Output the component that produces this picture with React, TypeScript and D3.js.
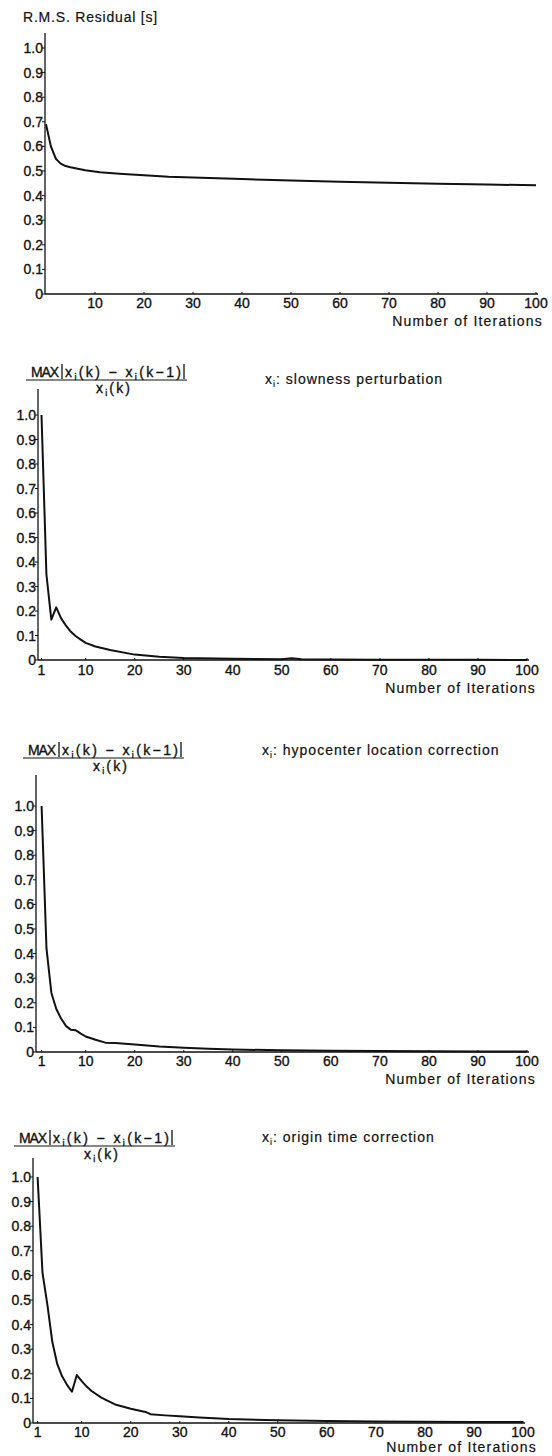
import React from "react";
import * as d3 from "d3";

// ---------- data ----------
const yTickValues = [0, 0.1, 0.2, 0.3, 0.4, 0.5, 0.6, 0.7, 0.8, 0.9, 1.0];
const xTicksRms = [10, 20, 30, 40, 50, 60, 70, 80, 90, 100];
const xTicksMax = [1, 10, 20, 30, 40, 50, 60, 70, 80, 90, 100];

const rmsIter = [0, 1, 2, 3, 4, 5, 8, 11, 15, 20, 25, 30, 40, 50, 60, 70, 80, 90, 100];
const rmsValue = [0.69, 0.6, 0.55, 0.53, 0.52, 0.515, 0.503, 0.495, 0.489, 0.483, 0.477, 0.474, 0.467, 0.461, 0.456, 0.452, 0.448, 0.445, 0.442];

const slowIter = [1, 2, 3, 4, 5, 6, 7, 8, 9, 10, 12, 15, 20, 25, 30, 40, 50, 52, 54, 60, 70, 80, 90, 100];
const slowValue = [1.0, 0.35, 0.165, 0.215, 0.17, 0.14, 0.115, 0.097, 0.083, 0.07, 0.055, 0.041, 0.022, 0.013, 0.008, 0.005, 0.003, 0.007, 0.003, 0.002, 0.001, 0.001, 0.001, 0.0];

const hypoIter = [1, 2, 3, 4, 5, 6, 7, 8, 9, 10, 12, 14, 16, 20, 25, 30, 35, 40, 50, 60, 70, 80, 90, 100];
const hypoValue = [1.0, 0.42, 0.24, 0.175, 0.135, 0.105, 0.09, 0.088, 0.075, 0.063, 0.05, 0.038, 0.037, 0.03, 0.022, 0.017, 0.013, 0.01, 0.007, 0.005, 0.004, 0.003, 0.002, 0.002];

const originIter = [1, 2, 3, 4, 5, 6, 7, 8, 9, 10, 11, 12, 14, 17, 20, 23, 24, 27, 30, 34, 40, 50, 60, 70, 80, 90, 100];
const originValue = [1.0, 0.61, 0.48, 0.33, 0.24, 0.19, 0.155, 0.127, 0.195, 0.17, 0.148, 0.13, 0.103, 0.074, 0.058, 0.045, 0.036, 0.031, 0.027, 0.022, 0.016, 0.011, 0.008, 0.006, 0.005, 0.004, 0.004];

const rmsTitle = "R.M.S. Residual [s]";
const xAxisTitle = "Number of Iterations";
const slowLabel = "slowness perturbation";
const hypoLabel = "hypocenter location correction";
const originLabel = "origin time correction";

// ---------- styling ----------
const FONT = "'Liberation Sans', Arial, Helvetica, sans-serif";
const INK = "#111";
const TXT = { fontFamily: FONT, fill: INK, stroke: INK, strokeWidth: 0.35 } as const;

type Cfg = {
  axisX: number;
  x0: number;
  x1: number;
  domain: [number, number];
  y0: number;
  y1: number;
  axisTop: number;
  tickBase: number;
  titleBase: number;
  titleRight: number;
};

function Panel({ cfg, iters, values, xTicks }: { cfg: Cfg; iters: number[]; values: number[]; xTicks: number[] }) {
  const x = d3.scaleLinear().domain(cfg.domain).range([cfg.x0, cfg.x1]);
  const y = d3.scaleLinear().domain([0, 1]).range([cfg.y0, cfg.y1]);
  const pts = iters.map((k, i) => [k, values[i]] as [number, number]);
  const line = d3
    .line<[number, number]>()
    .x((d) => x(d[0]))
    .y((d) => y(d[1]))
    .curve(d3.curveLinear);
  const fmt = (v: number) => (v === 0 ? "0" : d3.format(".1f")(v));
  return (
    <g>
      {/* y axis */}
      <line x1={cfg.axisX} x2={cfg.axisX} y1={cfg.axisTop} y2={cfg.y0} stroke={INK} strokeWidth={1.3} />
      {yTickValues.map((v) => (
        <g key={"y" + v}>
          <line x1={cfg.axisX - 3} x2={cfg.axisX} y1={y(v)} y2={y(v)} stroke={INK} strokeWidth={1} />
          <text x={cfg.axisX - 2} y={y(v) + 5} textAnchor="end" fontSize={14} {...TXT}>
            {fmt(v)}
          </text>
        </g>
      ))}
      {/* x axis */}
      <line x1={cfg.axisX} x2={x(100) + 2} y1={cfg.y0} y2={cfg.y0} stroke={INK} strokeWidth={1.3} />
      {xTicks.map((v) => (
        <g key={"x" + v}>
          <line x1={x(v)} x2={x(v)} y1={cfg.y0} y2={cfg.y0 - 2} stroke={INK} strokeWidth={1} />
          <text x={x(v)} y={cfg.tickBase} textAnchor="middle" fontSize={14} {...TXT}>
            {v}
          </text>
        </g>
      ))}
      <text x={cfg.titleRight} y={cfg.titleBase} textAnchor="end" fontSize={14} letterSpacing={1.2} {...TXT} strokeWidth={0.2}>
        {xAxisTitle}
      </text>
      <path d={line(pts) || ""} fill="none" stroke={INK} strokeWidth={2} strokeLinejoin="round" />
    </g>
  );
}

function Fraction({ left, base, label, labelX, labelBase }: { left: number; base: number; label: string; labelX: number; labelBase: number }) {
  const fs = 14;
  const sub = (key: string) => (
    <tspan key={key} fontSize={9} dy={3}>
      i
    </tspan>
  );
  return (
    <g>
      <text x={left + 5} y={base} fontSize={fs} textLength={28} lengthAdjust="spacing" {...TXT}>
        MAX
      </text>
      <line x1={left + 36} x2={left + 36} y1={base - 13} y2={base + 2} stroke={INK} strokeWidth={1.3} />
      <text x={left + 39} y={base} fontSize={fs} textLength={116} lengthAdjust="spacing" {...TXT}>
        <tspan>x</tspan>
        {sub("a")}
        <tspan dy={-3}>{"(k) \u2212 x"}</tspan>
        {sub("b")}
        <tspan dy={-3}>{"(k\u22121)"}</tspan>
      </text>
      <line x1={left + 158} x2={left + 158} y1={base - 13} y2={base + 2} stroke={INK} strokeWidth={1.3} />
      <line x1={left} x2={left + 161} y1={base + 3} y2={base + 3} stroke={INK} strokeWidth={1.2} />
      <text x={left + 70} y={base + 16} fontSize={fs} textLength={34} lengthAdjust="spacing" {...TXT}>
        <tspan>x</tspan>
        {sub("c")}
        <tspan dy={-3}>{"(k)"}</tspan>
      </text>
      <text x={labelX} y={labelBase} fontSize={fs} letterSpacing={1} {...TXT} strokeWidth={0.2}>
        <tspan>x</tspan>
        {sub("d")}
        <tspan dy={-3}>{": " + label}</tspan>
      </text>
    </g>
  );
}

export default function App() {
  const p1: Cfg = { axisX: 45, x0: 46, x1: 536, domain: [0, 100], y0: 294, y1: 48, axisTop: 33, tickBase: 308, titleBase: 326, titleRight: 543 };
  const p2: Cfg = { axisX: 38, x0: 41.5, x1: 527, domain: [1, 100], y0: 660, y1: 415, axisTop: 389, tickBase: 675, titleBase: 693, titleRight: 536 };
  const p3: Cfg = { axisX: 36, x0: 41.6, x1: 527, domain: [1, 100], y0: 1052, y1: 806, axisTop: 775, tickBase: 1066, titleBase: 1084, titleRight: 536 };
  const p4: Cfg = { axisX: 33, x0: 37.6, x1: 523, domain: [1, 100], y0: 1423, y1: 1177, axisTop: 1158, tickBase: 1437, titleBase: 1452, titleRight: 537 };
  return (
    <svg
      width={552}
      height={1456}
      viewBox="0 0 552 1456"
      style={{ position: "absolute", left: 0, top: 0, background: "#fff" }}
    >
      <rect x={0} y={0} width={552} height={1456} fill="#fff" />
      <text x={23} y={21.5} fontSize={14} letterSpacing={0.8} {...TXT} strokeWidth={0.2}>
        {rmsTitle}
      </text>
      <Panel cfg={p1} iters={rmsIter} values={rmsValue} xTicks={xTicksRms} />

      <Fraction left={26} base={377} label={slowLabel} labelX={265} labelBase={384} />
      <Panel cfg={p2} iters={slowIter} values={slowValue} xTicks={xTicksMax} />

      <Fraction left={23} base={755} label={hypoLabel} labelX={262} labelBase={755} />
      <Panel cfg={p3} iters={hypoIter} values={hypoValue} xTicks={xTicksMax} />

      <Fraction left={14} base={1143} label={originLabel} labelX={262} labelBase={1142} />
      <Panel cfg={p4} iters={originIter} values={originValue} xTicks={xTicksMax} />
    </svg>
  );
}
